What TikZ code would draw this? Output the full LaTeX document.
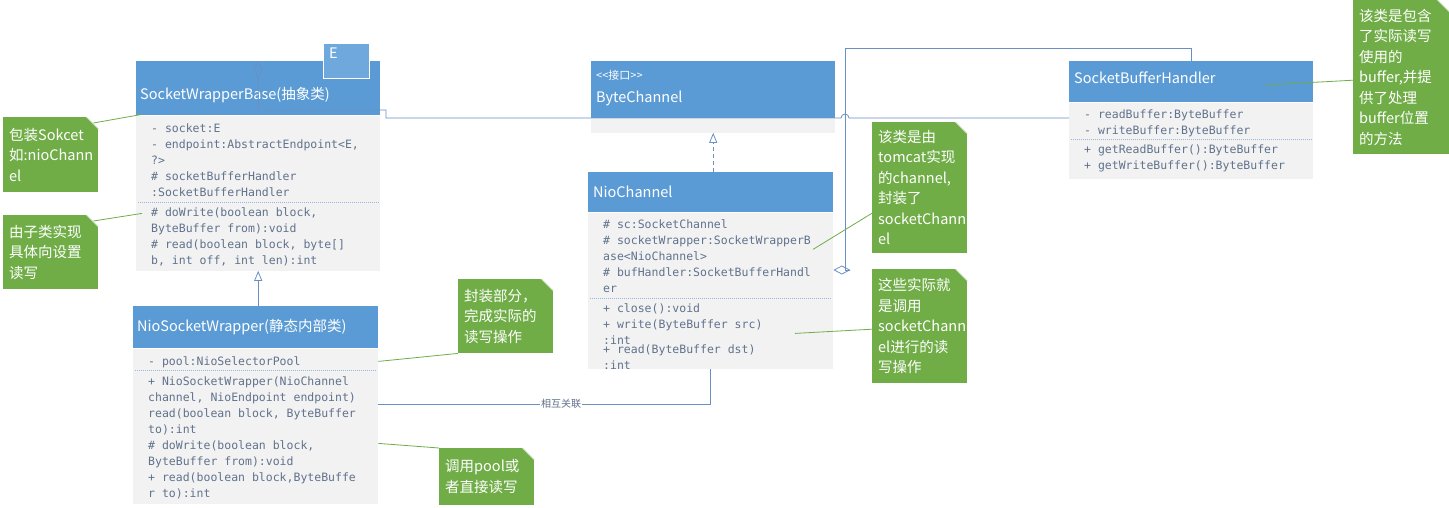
\documentclass[tikz,border=0pt]{standalone}
\usepackage{fontspec}
\setmainfont{Noto Sans CJK SC}
\newfontfamily\codefont{DejaVu Sans Mono}
\usetikzlibrary{arrows.meta, positioning, calc}
\definecolor{umlblue}{RGB}{91,155,213}
\definecolor{paramblue}{RGB}{110,168,220}
\definecolor{bodygrey}{RGB}{242,242,242}
\definecolor{notegreen}{RGB}{112,173,71}
\definecolor{wireblue}{RGB}{106,144,194}
\definecolor{membertxt}{RGB}{96,114,140}
\definecolor{sepblue}{RGB}{150,182,218}
\newcommand{\mstrut}{\rule{0pt}{11pt}}
\newcommand{\notefold}[1]{%
  \fill[white] ($(#1.north east)+(-12,0)$) -- (#1.north east) -- ($(#1.north east)+(0,12)$) -- cycle;
  \draw[notegreen!45!white, line width=0.6pt] ($(#1.north east)+(-12,0)$) -- ($(#1.north east)+(0,12)$);}

\begin{document}
\begin{tikzpicture}[x=1pt, y=-1pt,
  clshead/.style={fill=umlblue, inner sep=0pt, anchor=north west},
  clsbody/.style={fill=bodygrey, inner sep=0pt, anchor=north west},
  clstitle/.style={text=white, inner sep=0pt, anchor=west, font=\fontsize{14.5}{16}\selectfont},
  member/.style={text=membertxt, inner sep=0pt, anchor=north west, align=left, font=\codefont\fontsize{11.5}{16}\selectfont},
  sepline/.style={sepblue, line width=0.6pt, dash pattern=on 0.8pt off 1.2pt},
  note/.style={fill=notegreen, text=white, anchor=north west, inner xsep=6pt, inner ysep=0pt, text width=83pt, align=left, font=\fontsize{14.5}{20.5}\selectfont},
  noteline/.style={notegreen, line width=0.8pt},
  inherit/.style={-{Triangle[open, length=10pt, width=8pt]}, wireblue, line width=0.8pt},
  realize/.style={-{Triangle[open, length=10pt, width=8pt]}, wireblue, line width=0.8pt, dash pattern=on 4pt off 3pt},
  aggr/.style={{Diamond[open, length=17pt, width=9pt]}-, wireblue, line width=0.8pt},
  assoc/.style={wireblue, line width=0.8pt},
  assoclbl/.style={fill=white, inner sep=1pt, text=membertxt, font=\fontsize{10}{12}\selectfont}
]
  \fill[white] (0,0) rectangle (1449,507);
  \useasboundingbox (0,0) rectangle (1449,507);

  % SocketWrapperBase
  \node[clshead, minimum width=244pt, minimum height=54pt] (swbH) at (136,61) {};
  \node[clsbody, minimum width=244pt, minimum height=155pt] (swbB) at (swbH.south west) {};
  \node[fill=paramblue, draw=white, line width=1.2pt, minimum width=46pt, minimum height=35pt, inner sep=0pt, anchor=north west] (eprm) at (323,43) {};
  \node[clstitle, anchor=north west] (etxt) at ($(eprm.north west)+(6,5)$) {E};
  \node[clstitle] (swbT) at ($(swbH.west)+(4,7)$) {SocketWrapperBase(抽象类)};
  \draw[sepline] ($(swbB.north west)+(2,87)$) -- ($(swbB.north east)+(-2,87)$);
  \node[member] (swbA) at ($(swbB.north west)+(15,6.2)$) {\mstrut- socket:E\\- endpoint:AbstractEndpoint<E,\\?>\\\# socketBufferHandler\\:SocketBufferHandler};
  \node[member] (swbM) at ($(swbB.north west)+(15,90.2)$) {\mstrut\# doWrite(boolean block,\\ByteBuffer from):void\\\# read(boolean block, byte[]\\b, int off, int len):int};

  % NioSocketWrapper
  \node[clshead, minimum width=245pt, minimum height=42pt] (nswH) at (133,306) {};
  \node[clsbody, minimum width=245pt, minimum height=155pt] (nswB) at (nswH.south west) {};
  \node[clstitle] (nswT) at ($(nswH.west)+(4,0)$) {NioSocketWrapper(静态内部类)};
  \draw[sepline] ($(nswB.north west)+(2,22)$) -- ($(nswB.north east)+(-2,22)$);
  \node[member] (nswA) at ($(nswB.north west)+(15,6.2)$) {\mstrut- pool:NioSelectorPool};
  \node[member] (nswM) at ($(nswB.north west)+(15,26.2)$) {\mstrut+ NioSocketWrapper(NioChannel\\channel, NioEndpoint endpoint)\\read(boolean block, ByteBuffer\\to):int\\\# doWrite(boolean block,\\ByteBuffer from):void\\+ read(boolean block,ByteBuffe\\r to):int};

  % ByteChannel
  \node[clshead, minimum width=244pt, minimum height=57pt] (bcH) at (591,61) {};
  \node[clsbody, minimum width=244pt, minimum height=14pt] (bcB) at (bcH.south west) {};
  \node[clstitle, font=\fontsize{11}{13}\selectfont] (bcS) at ($(bcH.west)+(5,-14.5)$) {<\kern0pt<接口>\kern0pt>};
  \node[clstitle] (bcT) at ($(bcH.west)+(5,8.5)$) {ByteChannel};

  % NioChannel
  \node[clshead, minimum width=245pt, minimum height=40pt] (ncH) at (588,172) {};
  \node[clsbody, minimum width=245pt, minimum height=156pt] (ncB) at (ncH.south west) {};
  \node[clstitle] (ncT) at ($(ncH.west)+(5,0)$) {NioChannel};
  \draw[sepline] ($(ncB.north west)+(2,86)$) -- ($(ncB.north east)+(-2,86)$);
  \node[member] (ncA) at ($(ncB.north west)+(15,5.2)$) {\mstrut\# sc:SocketChannel\\\# socketWrapper:SocketWrapperB\\ase<NioChannel>\\\# bufHandler:SocketBufferHandl\\er};
  \node[member] (ncM) at ($(ncB.north west)+(15,89.2)$) {\mstrut+ close():void\\+ write(ByteBuffer src)\\:int};
  \node[member] (ncR) at ($(ncB.north west)+(15,130.2)$) {\mstrut+ read(ByteBuffer dst)\\:int};

  % SocketBufferHandler
  \node[clshead, minimum width=244pt, minimum height=41pt] (sbhH) at (1069,61) {};
  \node[clsbody, minimum width=244pt, minimum height=76pt] (sbhB) at (sbhH.south west) {};
  \node[clstitle] (sbhT) at ($(sbhH.west)+(5,-3.5)$) {SocketBufferHandler};
  \draw[sepline] ($(sbhB.north west)+(2,37)$) -- ($(sbhB.north east)+(-2,37)$);
  \node[member] (sbhA) at ($(sbhB.north west)+(15,5.2)$) {\mstrut- readBuffer:ByteBuffer\\- writeBuffer:ByteBuffer};
  \node[member] (sbhM) at ($(sbhB.north west)+(15,40.2)$) {\mstrut+ getReadBuffer():ByteBuffer\\+ getWriteBuffer():ByteBuffer};

  % Notes
  \node[note, minimum height=75pt] (nWrap) at (3,117) {包装Sokcet\\如:nioChann\\el};
  \node[note, minimum height=74pt] (nImpl) at (3,215) {由子类实现\\具体向设置\\读写};
  \node[note, minimum height=74pt] (nPart) at (458,279) {封装部分，\\完成实际的\\读写操作};
  \node[note, minimum height=57pt] (nPool) at (439,448) {调用pool或\\者直接读写};
  \node[note, minimum height=131pt] (nTomcat) at (872,122) {该类是由\\tomcat实现\\的channel,\\封装了\\socketChann\\el};
  \node[note, minimum height=114pt] (nSock) at (872,269) {这些实际就\\是调用\\socketChann\\el进行的读\\写操作};
  \node[note, text width=84pt, minimum height=154pt] (nBuf) at (1353,0) {该类是包含\\了实际读写\\使用的\\buffer,并提\\供了处理\\buffer位置\\的方法};
  \notefold{nWrap}
  \notefold{nImpl}
  \notefold{nPart}
  \notefold{nPool}
  \notefold{nTomcat}
  \notefold{nSock}
  \notefold{nBuf}

  % Note links
  \coordinate (pImpl) at ($(swbB.north west)+(6,98)$);
  \coordinate (pTomcat) at ($(ncB.north west)+(225,37)$);
  \coordinate (pSock) at ($(ncB.north west)+(207,121)$);
  \coordinate (pBuf) at ($(sbhH.north west)+(196,24)$);
  \draw[noteline] ($(nWrap.north east)+(-5,6)$) -- ($(swbH.south west)+(6,-1)$);
  \draw[noteline] ($(nImpl.north east)+(-5,6)$) -- (pImpl);
  \draw[noteline] (nPart.south west) -- ($(nswB.north east)+(0,13)$);
  \draw[noteline] (nPool.north west) -- ($(nswB.north east)+(0,95)$);
  \draw[noteline] ($(nTomcat.west)+(0,25.5)$) -- (pTomcat);
  \draw[noteline] ($(nSock.west)+(0,3)$) -- (pSock);
  \draw[noteline] ($(nBuf.west)+(0,3)$) -- (pBuf);

  % Relations
  \draw[inherit] (nswH.north -| swbB.south) -- (swbB.south);
  \draw[realize] (ncH.north -| bcB.south) -- (bcB.south);
  \coordinate (assocBend) at (ncB.south |- 0,404);
  \draw[assoc] (nswB.east |- assocBend) -- node[assoclbl, pos=0.55] (assocT) {相互关联} (assocBend) -- (ncB.south);
  \draw[aggr] (swbH.north) -- (swbH.north |- 0,110) -| (386,118) -- (841,118) arc[start angle=180, end angle=0, radius=4pt] -- (sbhB.west |- 0,118);
  \draw[aggr] (ncB.east |- 0,270) -| (845,48) -| (sbhH.north);
\end{tikzpicture}
\end{document}
